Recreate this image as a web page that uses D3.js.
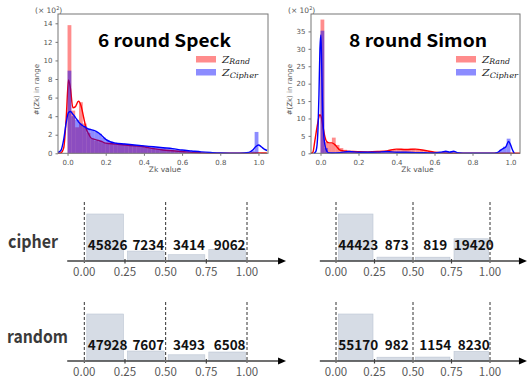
<!DOCTYPE html>
<html>
<head>
<meta charset="utf-8">
<script src="https://cdn.jsdelivr.net/npm/d3@7/dist/d3.min.js"></script>
<style>
  body { margin: 0; background: #fff; }
  svg { display: block; }
</style>
</head>
<body>
<svg id="chart" width="527" height="378"></svg>
<script>
// ---- top: Zk distributions (counts in hundreds, bins of width 0.02 from 0 to 1)
const binWidth = 0.02;

const speckRandHist = [13.8, 4.6, 2.8, 5.5, 3.2, 2.2, 1.6, 1.35, 1.2, 1.1,
  1.05, 1.0, 0.95, 0.9, 0.9, 0.85, 0.8, 0.8, 0.75, 0.7,
  0.6, 0.55, 0.5, 0.45, 0.4, 0.35, 0.3, 0.25, 0.2, 0.18,
  0.15, 0.12, 0.1, 0.08, 0.06, 0.05, 0.04, 0.03, 0.02, 0.02,
  0.01, 0.01, 0.01, 0.01, 0.01, 0.01, 0.01, 0.02, 0.03, 0.1];
const speckCipherHist = [8.9, 4.0, 3.6, 3.2, 2.9, 2.7, 2.5, 2.3, 2.1, 1.7,
  1.4, 1.25, 1.15, 1.1, 1.05, 1.0, 0.95, 0.9, 0.9, 0.85,
  0.8, 0.75, 0.7, 0.65, 0.6, 0.55, 0.5, 0.45, 0.4, 0.35,
  0.3, 0.25, 0.2, 0.17, 0.14, 0.1, 0.08, 0.06, 0.04, 0.03,
  0.02, 0.02, 0.02, 0.02, 0.02, 0.02, 0.03, 0.05, 0.3, 2.3];
const simonRandHist = [38.4, 3.2, 2.8, 4.5, 2.4, 1.5, 1.0, 0.7, 0.6, 0.5,
  0.45, 0.4, 0.4, 0.35, 0.4, 0.45, 0.5, 0.6, 0.8, 1.0,
  1.2, 1.1, 1.0, 1.2, 1.3, 1.1, 0.9, 0.6, 0.4, 0.3,
  0.2, 0.15, 0.1, 0.05, 0.05, 0.03, 0.02, 0.02, 0.02, 0.02,
  0.02, 0.02, 0.02, 0.02, 0.02, 0.02, 0.02, 0.02, 0.02, 0.02];
const simonCipherHist = [35.2, 1.5, 0.3, 0.2, 0.2, 0.3, 0.4, 0.5, 0.4, 0.3,
  0.3, 0.3, 0.3, 0.3, 0.3, 0.4, 0.5, 0.5, 0.4, 0.3,
  0.3, 0.3, 0.2, 0.2, 0.2, 0.2, 0.2, 0.2, 0.2, 0.1,
  0.1, 0.2, 0.6, 0.4, 0.6, 0.2, 0.05, 0.05, 0.05, 0.05,
  0.05, 0.05, 0.05, 0.05, 0.05, 0.05, 0.05, 1.0, 1.9, 4.2];

// kde curves
const speckKdeX = [-0.05, -0.035, -0.02, -0.007, 0.005, 0.015, 0.028, 0.04, 0.057, 0.071,
  0.085, 0.097, 0.11, 0.123, 0.15, 0.175, 0.2, 0.25, 0.3, 0.35,
  0.4, 0.45, 0.5, 0.55, 0.6, 0.65, 0.7, 0.75, 0.8, 0.85,
  0.9, 0.95, 0.97, 0.985, 1.0, 1.015, 1.03, 1.045];
const speckRandKde = [0, 0.05, 0.6, 3.8, 7.9, 7.0, 4.9, 5.0, 5.6, 5.1,
  3.8, 2.7, 2.1, 1.65, 1.45, 1.3, 1.1, 1.0, 0.9, 0.8,
  0.7, 0.5, 0.35, 0.28, 0.2, 0.1, 0.05, 0.02, 0.01, 0.01,
  0.01, 0.02, 0.03, 0.04, 0.05, 0.04, 0.03, 0.02];
const speckCipherKde = [0.1, 0.3, 1.5, 3.3, 4.4, 4.5, 4.2, 3.9, 3.4, 3.1,
  2.9, 2.75, 2.6, 2.55, 2.35, 2.0, 1.5, 1.1, 1.0, 0.9,
  0.8, 0.7, 0.6, 0.5, 0.35, 0.25, 0.15, 0.08, 0.03, 0.02,
  0.02, 0.1, 0.35, 0.7, 0.9, 0.7, 0.45, 0.3];

const simonRandKdeX = [-0.05, -0.04, -0.03, -0.015, -0.004, 0.006, 0.014, 0.023, 0.032, 0.045,
  0.06, 0.075, 0.09, 0.1, 0.12, 0.137, 0.17, 0.2, 0.25, 0.3,
  0.35, 0.4, 0.45, 0.5, 0.55, 0.6, 0.65, 0.7, 0.8, 0.9, 1.0, 1.05];
const simonRandKde = [0, 0.3, 3.5, 8.5, 11.1, 10.0, 7.3, 4.8, 3.4, 3.0,
  3.0, 2.5, 1.6, 1.0, 0.7, 0.6, 0.5, 0.45, 0.4, 0.5,
  0.7, 1.2, 1.1, 1.2, 0.8, 0.3, 0.1, 0.03, 0.01, 0.01, 0.01, 0.01];
const simonCipherKdeX = [-0.035, -0.025, -0.018, -0.013, -0.008, -0.003, 0.002, 0.006, 0.01, 0.016,
  0.023, 0.03, 0.04, 0.06, 0.1, 0.15, 0.2, 0.25, 0.3, 0.35,
  0.4, 0.45, 0.5, 0.55, 0.6, 0.64, 0.66, 0.68, 0.7, 0.72,
  0.75, 0.8, 0.9, 0.93, 0.95, 0.965, 0.975, 0.99, 1.0, 1.01, 1.02];
const simonCipherKde = [0, 0.5, 2.5, 7.3, 17, 30, 34, 26, 15, 6,
  2.5, 1.0, 0.2, 0.1, 0.2, 0.5, 0.3, 0.3, 0.35, 0.5,
  0.3, 0.3, 0.2, 0.15, 0.1, 0.4, 0.6, 0.3, 0.6, 0.2,
  0.05, 0.02, 0.02, 0.2, 1.0, 1.5, 1.8, 3.4, 2.5, 1.0, 0];

const speckYTicks = [0, 2, 4, 6, 8, 10, 12, 14];
const simonYTicks = [0, 5, 10, 15, 20, 25, 30, 35];
const zkTicks = [0, 0.2, 0.4, 0.6, 0.8, 1.0];

// ---- bottom: counts per quarter
const quarterEdges = [0, 0.25, 0.5, 0.75, 1];
const quarterLabels = ["0.00", "0.25", "0.50", "0.75", "1.00"];
const dashedAt = [0, 0.5, 1];
const speckCipherCounts = [45826, 7234, 3414, 9062];
const simonCipherCounts = [44423, 873, 819, 19420];
const speckRandomCounts = [47928, 7607, 3493, 6508];
const simonRandomCounts = [55170, 982, 1154, 8230];

const svg = d3.select("#chart");
const RED = "#ff0000", BLUE = "#0000ff";
const tickFont = "DejaVu Sans, sans-serif";
const krFont = "'Noto Sans CJK KR', 'Noto Sans', sans-serif";

function drawDist(cfg) {
  const x = d3.scaleLinear().domain([-0.05, 1.05]).range([cfg.left, cfg.right]);
  const y = d3.scaleLinear().domain([0, cfg.yMax]).range([cfg.bottom, cfg.top]);
  const g = svg.append("g");

  const line = (xs) => d3.line()
    .x((d, i) => x(xs[i]))
    .y(d => y(d))
    .curve(d3.curveMonotoneX);

  // red histogram + kde, then blue on top (as distplot draws them)
  [[cfg.randHist, cfg.randKdeX, cfg.randKde, RED],
   [cfg.cipherHist, cfg.cipherKdeX, cfg.cipherKde, BLUE]].forEach(([hist, kx, ky, col]) => {
    g.append("g").selectAll("rect")
      .data(hist)
      .join("rect")
      .attr("x", (d, i) => x(i * binWidth))
      .attr("width", (d, i) => x((i + 1) * binWidth) - x(i * binWidth))
      .attr("y", d => y(d))
      .attr("height", d => y(0) - y(d))
      .attr("fill", col)
      .attr("fill-opacity", 0.45);
    g.append("path")
      .datum(ky)
      .attr("d", line(kx))
      .attr("fill", "none")
      .attr("stroke", col)
      .attr("stroke-width", 1.4);
  });

  // frame
  g.append("rect")
    .attr("x", cfg.left).attr("y", cfg.top)
    .attr("width", cfg.right - cfg.left).attr("height", cfg.bottom - cfg.top)
    .attr("fill", "none").attr("stroke", "#777").attr("stroke-width", 1);

  const xAxis = g.append("g")
    .attr("transform", `translate(0,${cfg.bottom})`)
    .call(d3.axisBottom(x).tickValues(zkTicks).tickFormat(d3.format(".1f")).tickSize(2.5));
  const yAxis = g.append("g")
    .attr("transform", `translate(${cfg.left},0)`)
    .call(d3.axisLeft(y).tickValues(cfg.yTicks).tickSize(2.5));
  [xAxis, yAxis].forEach(a => {
    a.select(".domain").remove();
    a.selectAll("line").attr("stroke", "#777");
    a.selectAll("text").attr("fill", "#555").style("font-size", "7px").style("font-family", tickFont);
  });
  xAxis.selectAll("text").attr("dy", "0.9em");

  g.append("text")
    .attr("x", (cfg.left + cfg.right) / 2 + 2).attr("y", cfg.bottom + 19)
    .attr("text-anchor", "middle").attr("fill", "#555")
    .style("font-size", "7.5px").style("font-family", tickFont)
    .text("Zk value");
  g.append("text")
    .attr("transform", `translate(${cfg.left - 19},${(cfg.top + cfg.bottom) / 2 + 6}) rotate(-90)`)
    .attr("text-anchor", "middle").attr("fill", "#555")
    .style("font-size", "7px").style("font-family", tickFont)
    .text("#(Zk) in range");

  const mult = g.append("text")
    .attr("x", cfg.left - 23).attr("y", cfg.top - 1)
    .attr("fill", "#555").style("font-size", "7.5px").style("font-family", tickFont);
  mult.append("tspan").text("(× 10");
  mult.append("tspan").attr("dy", -3).style("font-size", "5px").text("2");
  mult.append("tspan").attr("dy", 3).text(")");

  g.append("text")
    .attr("x", cfg.titleX).attr("y", cfg.top + 33)
    .attr("textLength", cfg.titleW).attr("lengthAdjust", "spacingAndGlyphs")
    .attr("fill", "#000").style("font-weight", "bold").style("font-size", "17.5px")
    .style("font-family", krFont)
    .text(cfg.title);

  // legend
  [["Rand", RED, 0, 28], ["Cipher", BLUE, 13, 36]].forEach(([name, col, dy, w]) => {
    g.append("rect")
      .attr("x", cfg.legX).attr("y", cfg.top + 42 + dy)
      .attr("width", 20).attr("height", 6.5)
      .attr("fill", col).attr("fill-opacity", 0.45);
    const t = g.append("text")
      .attr("x", cfg.legX + 26).attr("y", cfg.top + 48.5 + dy * 1.04)
      .attr("textLength", w).attr("lengthAdjust", "spacingAndGlyphs")
      .attr("fill", "#222").style("font-family", "'DejaVu Serif', serif")
      .style("font-style", "italic");
    t.append("tspan").style("font-size", "10px").text("Z");
    t.append("tspan").attr("dy", 1.8).style("font-size", "7.5px").text(name);
  });
}

drawDist({
  left: 58, right: 268, top: 14, bottom: 153.3, yMax: 15, yTicks: speckYTicks,
  randHist: speckRandHist, cipherHist: speckCipherHist,
  randKdeX: speckKdeX, randKde: speckRandKde,
  cipherKdeX: speckKdeX, cipherKde: speckCipherKde,
  title: "6 round Speck", titleX: 98, titleW: 133, legX: 196
});
drawDist({
  left: 311, right: 520, top: 14, bottom: 153.3, yMax: 40, yTicks: simonYTicks,
  randHist: simonRandHist, cipherHist: simonCipherHist,
  randKdeX: simonRandKdeX, randKde: simonRandKde,
  cipherKdeX: simonCipherKdeX, cipherKde: simonCipherKde,
  title: "8 round Simon", titleX: 349, titleW: 138, legX: 456
});

// ---- bottom quarter panels
function drawQuarters(counts, x0, x1, axisY) {
  const x = d3.scaleLinear().domain([0, 1]).range([x0, x1]);
  const y = d3.scaleLinear().domain([0, d3.max(counts)]).range([axisY - 3, axisY - 47]);
  const g = svg.append("g");

  g.selectAll("rect.bin")
    .data(counts)
    .join("rect")
    .attr("class", "bin")
    .attr("x", (d, i) => x(quarterEdges[i]) + 2.5)
    .attr("width", (d, i) => x(quarterEdges[i + 1]) - x(quarterEdges[i]) - 4)
    .attr("y", d => y(d))
    .attr("height", d => axisY - y(d))
    .attr("fill", "#d6dce5")
    .attr("stroke", "#bcc5d3")
    .attr("stroke-width", 0.6);

  g.selectAll("line.dash")
    .data(dashedAt)
    .join("line")
    .attr("x1", d => x(d)).attr("x2", d => x(d))
    .attr("y1", axisY - 59).attr("y2", axisY + 2)
    .attr("stroke", "#333").attr("stroke-width", 1)
    .attr("stroke-dasharray", "3,2");

  // axis with arrow
  const ax0 = x(-0.105), ax1 = x(1.24);
  g.append("line")
    .attr("x1", ax0).attr("x2", ax1 - 6)
    .attr("y1", axisY).attr("y2", axisY)
    .attr("stroke", "#404040").attr("stroke-width", 1.3);
  g.append("path")
    .attr("d", `M${ax1},${axisY} L${ax1 - 8},${axisY - 3.5} L${ax1 - 8},${axisY + 3.5} Z`)
    .attr("fill", "#000");

  g.selectAll("line.tick")
    .data(quarterEdges.filter(d => !dashedAt.includes(d)))
    .join("line")
    .attr("x1", d => x(d)).attr("x2", d => x(d))
    .attr("y1", axisY - 2).attr("y2", axisY + 2.5)
    .attr("stroke", "#404040").attr("stroke-width", 1.2);

  g.selectAll("text.tl")
    .data(quarterEdges)
    .join("text")
    .attr("x", d => x(d)).attr("y", axisY + 15)
    .attr("text-anchor", "middle").attr("fill", "#595959")
    .style("font-size", "11.5px").style("font-family", krFont)
    .text((d, i) => quarterLabels[i]);

  g.selectAll("text.val")
    .data(counts)
    .join("text")
    .attr("x", (d, i) => x((quarterEdges[i] + quarterEdges[i + 1]) / 2) + 3)
    .attr("y", axisY - 11)
    .attr("text-anchor", "middle").attr("fill", "#111")
    .style("font-size", "13.5px").style("font-weight", "bold").style("font-family", krFont)
    .text(d => d);
}

drawQuarters(speckCipherCounts, 84.3, 247, 261);
drawQuarters(simonCipherCounts, 336, 490, 261);
drawQuarters(speckRandomCounts, 84.3, 247, 361);
drawQuarters(simonRandomCounts, 336, 490, 361);

[["cipher", 8, 248, 50], ["random", 7, 343, 61]].forEach(([label, lx, ly, w]) => {
  svg.append("text")
    .attr("x", lx).attr("y", ly)
    .attr("textLength", w).attr("lengthAdjust", "spacingAndGlyphs")
    .attr("fill", "#3a3a3a")
    .style("font-size", "18px").style("font-weight", "bold").style("font-family", krFont)
    .text(label);
});
</script>
</body>
</html>
